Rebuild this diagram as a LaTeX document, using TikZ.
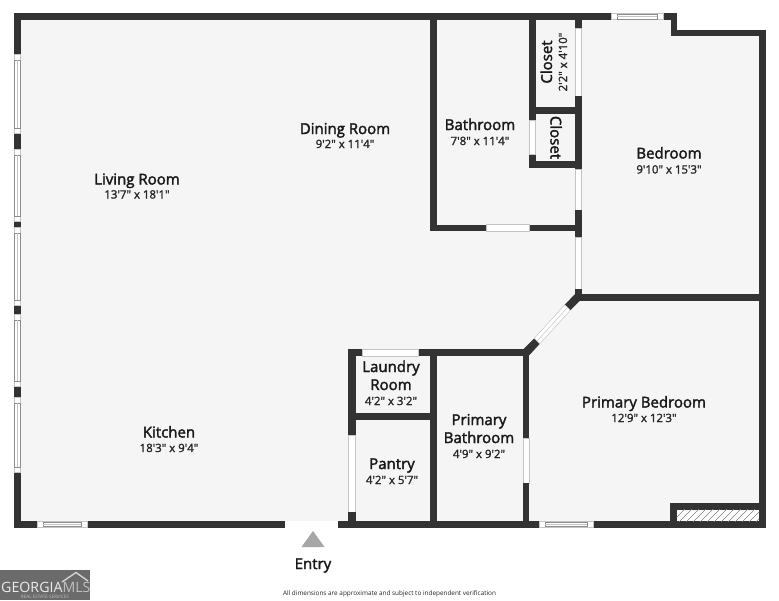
\documentclass[tikz,border=0pt]{standalone}
\usepackage{fontspec}
\setmainfont{Open Sans}
\newfontfamily\labfont{Open Sans}
\newfontfamily\semifont[FakeBold=2.2]{Open Sans}
\newfontfamily\dimfont[FakeBold=1.6]{Open Sans}
\definecolor{wallc}{HTML}{333333}
\definecolor{floorc}{HTML}{F5F5F5}
\definecolor{edgec}{HTML}{C4C4C4}
\definecolor{logoc}{HTML}{6B6B6B}
\tikzset{
  room/.style={inner sep=0pt,anchor=base,font=\semifont\fontsize{15}{15}\selectfont,text=black!90},
  dims/.style={inner sep=0pt,anchor=base,font=\dimfont\fontsize{11.4}{12}\selectfont,text=black!85},
  wall/.style={fill=wallc,draw=none},
  door/.style={fill=white,draw=edgec,line width=0.5pt},
  winframe/.style={fill=white,draw=edgec,line width=0.5pt},
  winpane/.style={fill=white,draw=black!45,line width=0.6pt},
}
\newcommand{\winH}[3]{% x1 x2 y1
  \path[winframe] (#1,#3) rectangle (#2,#3+6.5);
  \path[winpane] (#1+6,#3+0.8) rectangle (#2-6,#3+5.7);
  \draw[edgec,line width=0.5pt] (#1+6,#3+3.2) -- (#2-6,#3+3.2);}
\newcommand{\winV}[2]{% y1 y2
  \path[winframe] (14,#1-5.5) rectangle (20.5,#2+5.5);
  \path[winpane] (14.6,#1) rectangle (19.9,#2);
  \draw[edgec,line width=0.5pt] (17.2,#1) -- (17.2,#2);}
\begin{document}
\begin{tikzpicture}[x=1pt,y=-1pt]
\useasboundingbox (0,0) rectangle (779,600);
\fill[white] (0,0) rectangle (779,600);
% floor
\fill[floorc] (14,13) -- (677,13) -- (677,30) -- (765,30) -- (765,527) -- (14,527) -- cycle;
% outer walls
\path[wall] (14,13) rectangle (677,20);
\path[wall] (14,13) rectangle (20.5,527);
\path[wall] (14,521) rectangle (765.5,527.5);
\path[wall] (670.5,13) rectangle (677,36);
\path[wall] (670.5,29.5) rectangle (765.5,36);
\path[wall] (759,29.5) rectangle (765.5,527.5);
% bathroom
\path[wall] (430,13) rectangle (436.5,231);
\path[wall] (430,224.5) rectangle (581.5,231);
\path[door] (486,224.5) rectangle (529.5,231);
% closets
\path[wall] (529,13) rectangle (535.5,120);
\path[wall] (529,154) rectangle (535.5,167.5);
\path[door] (529.3,120) rectangle (535.3,154);
\path[wall] (529,107.3) rectangle (581.5,113.5);
\path[wall] (529,161) rectangle (581.5,167.5);
% central vertical wall
\path[wall] (575,13) rectangle (581.5,28);
\path[door] (575.5,28) rectangle (581,96);
\path[wall] (575,96) rectangle (581.5,169.5);
\path[door] (575.5,169.5) rectangle (581,210);
\path[wall] (575,210) rectangle (581.5,237);
\path[door] (575.5,237) rectangle (581,289);
\path[wall] (575,289) rectangle (581.5,300);
% bedroom / primary bedroom divider
\path[wall] (575,294) rectangle (765.5,300.5);
% diagonal wall
\path[wall] (575.5,293.5) -- (581,299.5) -- (570.3,310.2) -- (564.8,304.7) -- cycle;
\path[wall] (534.3,338.3) -- (539.8,343.8) -- (529,355.5) -- (523,349.5) -- cycle;
\path[door] (564.8,304.7) -- (570.3,310.2) -- (539.8,343.8) -- (534.3,338.3) -- cycle;
\draw[edgec,line width=0.5pt] (567.5,307.4) -- (537,341);
% laundry, pantry
\path[wall] (348,349.3) rectangle (529,356);
\path[door] (362,349.5) rectangle (418,355.8);
\path[wall] (348,349.3) rectangle (355.5,435);
\path[door] (348.5,435) rectangle (355,512);
\path[wall] (348,512) rectangle (355.5,527);
\path[wall] (355,413) rectangle (436,420);
\path[wall] (430,349.3) rectangle (436.7,527);
\path[wall] (522.8,349.3) rectangle (529.3,438);
\path[door] (523.2,438) rectangle (529,483);
\path[wall] (522.8,483) rectangle (529.3,527);
% fireplace
\path[wall] (670,503) rectangle (765.5,509.5);
\path[wall] (670,503) rectangle (676.5,527);
\fill[white] (676.5,509.5) rectangle (759,521);
\begin{scope}
\clip (676.5,509.5) rectangle (759,521);
\foreach \hx in {672,679,...,770} \draw[black!50,line width=0.6pt] (\hx,522) -- (\hx+14,508);
\end{scope}
% windows
\winH{611}{663}{13.2}
\winH{37}{87}{521}
\winH{539}{593}{521}
\winV{60}{128}
\winV{155}{216}
\winV{233}{300}
\winV{320}{381}
\winV{403}{467}
% entry
\path[door,draw=none] (285,521) rectangle (337.5,527.5);
\coordinate (entrytip) at (313,531);
\fill[black!35] (entrytip) -- (324.5,547) -- (301.5,547) -- cycle;
\node[room] (entry) at (313,569) {Entry};
% labels
\node[room] (dining) at (345,134) {Dining Room};
\node[dims] (diningd) at (345,148) {9'2" x 11'4"};
\node[room] (living) at (137,184.5) {Living Room};
\node[dims] (livingd) at (137,198.5) {13'7" x 18'1"};
\node[room] (kitchen) at (169,437.5) {Kitchen};
\node[dims] (kitchend) at (169,452) {18'3" x 9'4"};
\node[room] (bath) at (480,130) {Bathroom};
\node[dims] (bathd) at (480,145) {7'8" x 11'4"};
\node[room] (bed) at (669,158.5) {Bedroom};
\node[dims] (bedd) at (669,173.5) {9'10" x 15'3"};
\node[room,rotate=90] (closeta) at (552,62) {Closet};
\node[dims,rotate=90] (closetad) at (567,62) {2'2" x 4'10"};
\node[room,rotate=-90] (closetb) at (550.5,137.5) {Closet};
\node[room] (laundrya) at (391,372) {Laundry};
\node[room] (laundryb) at (391,390) {Room};
\node[dims] (laundryd) at (391,405) {4'2" x 3'2"};
\node[room] (pbatha) at (479,425) {Primary};
\node[room] (pbathb) at (479,443) {Bathroom};
\node[dims] (pbathd) at (479,458) {4'9" x 9'2"};
\node[room] (pantry) at (392,469) {Pantry};
\node[dims] (pantryd) at (392,484) {4'2" x 5'7"};
\node[room] (pbed) at (644,407.5) {Primary Bedroom};
\node[dims] (pbedd) at (644,422) {12'9" x 12'3"};
\node[inner sep=0pt,font=\labfont\fontsize{6.4}{8}\selectfont,text=black!85] (note) at (389.5,593.5) {All dimensions are approximate and subject to independent verification};
% logo
\fill[logoc] (0,570) rectangle (90,600);
\draw[white!85!black,line width=1.3pt] (62,582) -- (76,572.5) -- (88,581);
\node[inner sep=0pt,anchor=west,text=white!92!black,font=\labfont\fontsize{14.2}{15}\selectfont] (logo) at (1,587.5) {GEORGIA\textcolor{white!75!black}{MLS}};
\node[inner sep=0pt,text=white!75!black,font=\labfont\fontsize{4.6}{5}\selectfont] (logob) at (45,597) {REAL ESTATE SERVICES};
\end{tikzpicture}
\end{document}
